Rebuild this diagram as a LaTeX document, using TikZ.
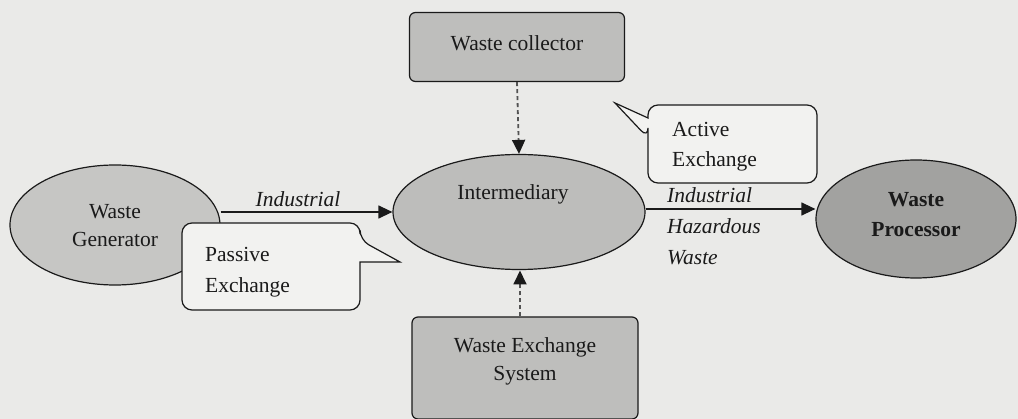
\documentclass[tikz,border=0pt]{standalone}
\usepackage{fontspec}
\setmainfont{Liberation Serif}
\usetikzlibrary{shapes.geometric,arrows.meta}
\definecolor{paper}{HTML}{EAEAE8}
\definecolor{genfill}{HTML}{C6C6C4}
\definecolor{interfill}{HTML}{BDBDBB}
\definecolor{procfill}{HTML}{A2A2A0}
\definecolor{boxfill}{HTML}{BEBEBC}
\definecolor{bubblefill}{HTML}{F2F2F0}
\definecolor{ink}{HTML}{1A1A1A}
\tikzset{
  txt/.style={font=\fontsize{21.5}{28}\selectfont, text=ink, inner sep=0pt},
  oval/.style={ellipse, draw=ink, line width=1.2pt, inner sep=0pt},
  gbox/.style={rectangle, rounded corners=6pt, draw=ink, line width=1.2pt, fill=boxfill, inner sep=0pt},
  bubble/.style={draw=ink, line width=1.2pt, fill=bubblefill},
  flow/.style={draw=ink, line width=1.2pt, -{Triangle[length=14pt,width=13pt]}},
  dflow/.style={draw=ink!75, line width=1.8pt, dash pattern=on 4pt off 3pt, -{Triangle[length=14pt,width=13pt,color=ink,fill=ink]}},
  lbl/.style={font=\fontsize{21.5}{31}\selectfont\itshape, text=ink, inner sep=0pt}
}
\begin{document}
\begin{tikzpicture}[x=1pt,y=-1pt]
\fill[paper] (0,0) rectangle (1018,419);
\useasboundingbox (0,0) rectangle (1018,419);

% nodes
\node[oval, fill=genfill, minimum width=210pt, minimum height=120pt] (gen) at (115,225) {};
\node[txt, align=center] (gentxt) at (115,226) {Waste\\Generator};

\node[oval, fill=interfill, minimum width=252pt, minimum height=115pt] (inter) at (519,212) {};
\node[txt] (intertxt) at (513,194) {Intermediary};

\node[oval, fill=procfill, minimum width=200pt, minimum height=118pt] (proc) at (916,219) {};
\node[txt, font=\fontsize{21.5}{30}\selectfont\bfseries, align=center] (proctxt) at (916,215) {Waste\\Processor};

\node[gbox, minimum width=215pt, minimum height=69pt] (coll) at (517,47) {};
\node[txt] (colltxt) at (517,43) {Waste collector};

\node[gbox, minimum width=226pt, minimum height=102pt] (wes) at (525,368) {};
\node[txt, align=center] (westxt) at (525,361) {Waste Exchange\\System};

% connectors
\draw[flow] (gen.east |- 0,212) coordinate (g1) -- (inter.west |- 0,212);
\node[lbl, anchor=south] (lind1) at (298,207) {Industrial};

\draw[flow] (inter.east |- 0,209) -- (proc.west |- 0,209);
\node[lbl, anchor=north west, align=left] (lind2) at (667,187) {Industrial\\Hazardous\\Waste};

\draw[dflow] (coll.south) -- (inter.north);
\draw[dflow] (wes.north -| 520,0) -- (520,270.5) coordinate (ib);

% Passive exchange bubble
\draw[bubble] (360,240) -- (400,262) -- (360,262) [rounded corners=10pt] -- (360,310) -- (182,310) -- (182,223) -- (360,223) -- (360,240) -- cycle;
\node[txt, anchor=west, align=left, font=\fontsize{21.5}{31}\selectfont] (passive) at (205,272) {Passive\\Exchange};

% Active exchange bubble
\draw[bubble] (648,138) -- (615,103) -- (648,118) [rounded corners=10pt] -- (648,105) -- (817,105) -- (817,183) -- (648,183) -- (648,138) -- cycle;
\node[txt, anchor=west, align=left, font=\fontsize{21.5}{30}\selectfont] (active) at (672,147) {Active\\Exchange};
\end{tikzpicture}
\end{document}
